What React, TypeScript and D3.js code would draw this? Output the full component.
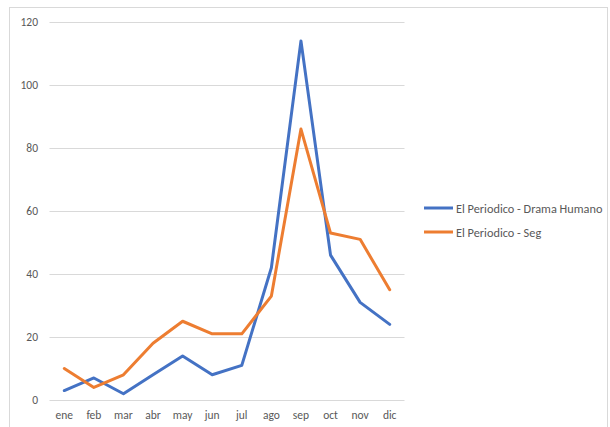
import React from "react";
import * as d3 from "d3";

const months = ["ene", "feb", "mar", "abr", "may", "jun", "jul", "ago", "sep", "oct", "nov", "dic"];
const dramaHumano = [3, 7, 2, 8, 14, 8, 11, 42, 114, 46, 31, 24];
const seg = [10, 4, 8, 18, 25, 21, 21, 33, 86, 53, 51, 35];
const yTicks = [0, 20, 40, 60, 80, 100, 120];
const seriesNames = ["El Periodico - Drama Humano", "El Periodico - Seg"];
const colors = ["#4472C4", "#ED7D31"];

export default function App() {
  const W = 610, H = 427;
  const x = d3.scaleBand<string>().domain(months).range([49.5, 404.5]);
  const y = d3.scaleLinear().domain([0, 120]).range([400, 22]);
  const line = d3.line<number>()
    .x((_, i) => (x(months[i]) as number) + x.bandwidth() / 2)
    .y((d) => y(d));
  const series = [dramaHumano, seg];
  const font = "Calibri, Carlito, 'Liberation Sans', 'DejaVu Sans', sans-serif";
  return (
    <div style={{ position: "absolute", left: 0, top: 0 }}>
      <svg width={W} height={H} style={{ display: "block" }}>
        <rect x={0} y={0} width={W} height={H} fill="#fff" />
        <rect x={9.5} y={7.5} width={598} height={430} fill="none" stroke="#d9d9d9" strokeWidth={1} />
        {yTicks.map((t) => (
          <g key={t}>
            <line x1={49.5} x2={404.5} y1={Math.round(y(t)) + 0.5} y2={Math.round(y(t)) + 0.5} stroke="#d9d9d9" strokeWidth={1} />
            <text x={38} y={y(t) + 4} textAnchor="end" fontSize={11.5} fill="#595959" fontFamily={font}>{t}</text>
          </g>
        ))}
        {months.map((m) => (
          <text key={m} x={(x(m) as number) + x.bandwidth() / 2} y={419} textAnchor="middle" fontSize={11.5} fill="#595959" fontFamily={font}>{m}</text>
        ))}
        {series.map((s, i) => (
          <path key={i} d={line(s) || ""} fill="none" stroke={colors[i]} strokeWidth={3} strokeLinejoin="round" strokeLinecap="round" />
        ))}
        {seriesNames.map((n, i) => (
          <g key={n} transform={`translate(424, ${208 + i * 24})`}>
            <line x1={0} x2={29} y1={0} y2={0} stroke={colors[i]} strokeWidth={3} />
            <text x={32} y={4.5} fontSize={12.3} fill="#595959" fontFamily={font}>{n}</text>
          </g>
        ))}
      </svg>
    </div>
  );
}
